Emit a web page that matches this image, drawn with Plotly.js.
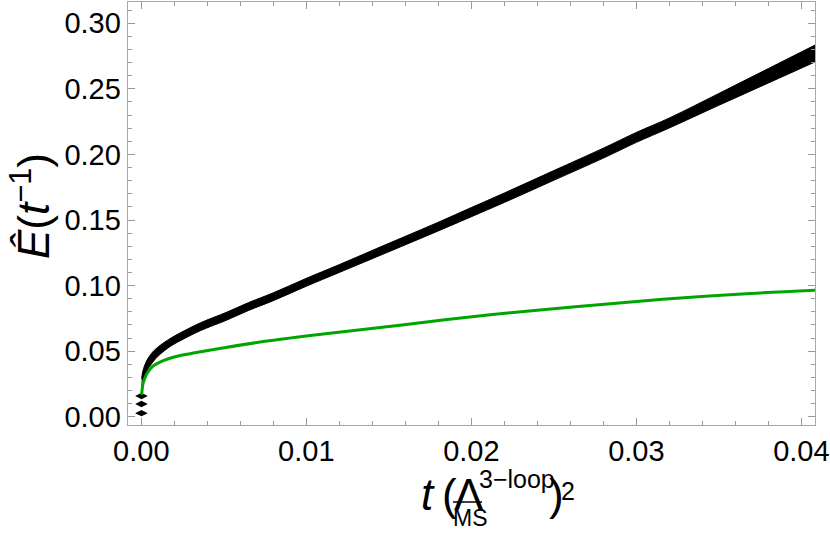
<!DOCTYPE html>
<html>
<head>
<meta charset="utf-8">
<script src="https://cdn.plot.ly/plotly-3.0.1.min.js"></script>
<style>
  html, body { margin: 0; padding: 0; background: #fff; }
  #myPlot { width: 830px; height: 533px; }
</style>
</head>
<body>
<div id="myPlot"></div>
<script>
// black band (lower / upper edge)
const tBand = [0.00002, 0.0001, 0.0003, 0.0006, 0.001, 0.0018, 0.0026, 0.0036, 0.0052, 0.0065, 0.008, 0.010, 0.012, 0.015, 0.018, 0.020, 0.022, 0.025, 0.028, 0.030, 0.032, 0.035, 0.038, 0.041];
const bandLow = [0.019, 0.027, 0.034, 0.040, 0.046, 0.054, 0.0595, 0.0657, 0.0738, 0.081, 0.0885, 0.0995, 0.110, 0.1258, 0.1417, 0.1525, 0.1634, 0.1803, 0.1972, 0.2092, 0.2202, 0.2375, 0.2545, 0.2715];
const bandHigh = [0.029, 0.035, 0.042, 0.048, 0.053, 0.060, 0.0655, 0.0717, 0.0798, 0.087, 0.0945, 0.1055, 0.116, 0.1322, 0.1483, 0.1595, 0.1706, 0.1877, 0.2048, 0.2168, 0.2278, 0.2465, 0.2655, 0.2845];

// small isolated dashes at t ~ 0
const tDash = [0.00001, 0.00001, 0.00001];
const eDash = [0.0027, 0.0097, 0.0158];

// green curve
const tGreen = [0.00002, 0.0001, 0.0002, 0.00035, 0.0007, 0.0011, 0.0016, 0.0025, 0.0036, 0.0052, 0.0075, 0.0105, 0.0158, 0.021, 0.0263, 0.0316, 0.0369, 0.041];
const eGreen = [0.0166, 0.025, 0.029, 0.033, 0.0385, 0.0415, 0.044, 0.047, 0.0496, 0.053, 0.0575, 0.0623, 0.070, 0.0776, 0.0839, 0.0895, 0.094, 0.0966];

// ticks
const xTickVals = [0, 0.01, 0.02, 0.03, 0.04];
const xTickText = ["0.00", "0.01", "0.02", "0.03", "0.04"];
const yTickVals = [0, 0.05, 0.10, 0.15, 0.20, 0.25, 0.30];
const yTickText = ["0.00", "0.05", "0.10", "0.15", "0.20", "0.25", "0.30"];

// plot area in pixels
const L = 128, R = 815, T = 2, B = 425;
function px(x) { return (x - L) / (R - L); }
function py(y) { return (B - y) / (B - T); }

const lower = {
    x: tBand, y: bandLow,
    mode: "lines",
    line: {color: "black", width: 1, shape: "spline"},
    hoverinfo: "skip"
};
const upper = {
    x: tBand, y: bandHigh,
    mode: "lines",
    fill: "tonexty",
    fillcolor: "black",
    line: {color: "black", width: 1, shape: "spline"},
    hoverinfo: "skip"
};
const dashes = {
    x: tDash, y: eDash,
    mode: "markers",
    marker: {symbol: "diamond-wide", size: 9, color: "black"}
};
const green = {
    x: tGreen, y: eGreen,
    mode: "lines",
    line: {color: "#00a600", width: 3, shape: "spline", smoothing: 0.8}
};

const fnt = "Liberation Sans, Arial, sans-serif";
const axisCommon = {
    showgrid: false,
    zeroline: false,
    showline: true,
    linecolor: "#a8a8a8",
    linewidth: 1.3,
    mirror: "ticks",
    ticks: "inside",
    ticklen: 7,
    tickwidth: 1,
    tickcolor: "#999",
    tickmode: "array",
    ticklabeloverflow: "allow",
    tickfont: {family: fnt, size: 29, color: "black"}
};

function label(text, x, y, size, extra) {
    return Object.assign({
        xref: "paper", yref: "paper", x: px(x), y: py(y),
        xanchor: "left", yanchor: "top", showarrow: false,
        text: text, font: {family: fnt, size: size, color: "black"}
    }, extra || {});
}

const layout = {
    width: 830, height: 533,
    margin: {l: L, r: 830 - R, t: T, b: 533 - B},
    paper_bgcolor: "white",
    plot_bgcolor: "white",
    showlegend: false,
    xaxis: Object.assign({}, axisCommon, {
        range: [-0.000806, 0.040824],
        tickvals: xTickVals, ticktext: xTickText,
        minor: {dtick: 0.002, tick0: 0, ticks: "inside", ticklen: 4, tickcolor: "#999", showgrid: false}
    }),
    yaxis: Object.assign({}, axisCommon, {
        range: [-0.00633, 0.31624],
        tickvals: yTickVals, ticktext: yTickText,
        minor: {dtick: 0.01, tick0: 0, ticks: "inside", ticklen: 4, tickcolor: "#999", showgrid: false}
    }),
    annotations: [
        // y title
        label("<i>Ê</i>(<i>t</i><sup>−1</sup>)", 30, 206, 44, {xanchor: "center", yanchor: "middle", textangle: -90}),
        // x title pieces
        label("<i>t</i>", 419, 468, 44),
        label("(", 440, 468, 44),
        label("Λ", 452, 468, 44),
        label("3−loop", 477, 463, 25),
        label("MS", 451, 503, 23),
        label(")", 547, 468, 44),
        label("2", 559, 475, 25)
    ],
    shapes: [
        // bar over MS
        {type: "line", xref: "paper", yref: "paper", x0: px(453), x1: px(482), y0: py(502), y1: py(502),
         line: {color: "black", width: 1.5}}
    ]
};

Plotly.newPlot("myPlot", [lower, upper, dashes, green], layout, {displayModeBar: false, staticPlot: true});
</script>
</body>
</html>
